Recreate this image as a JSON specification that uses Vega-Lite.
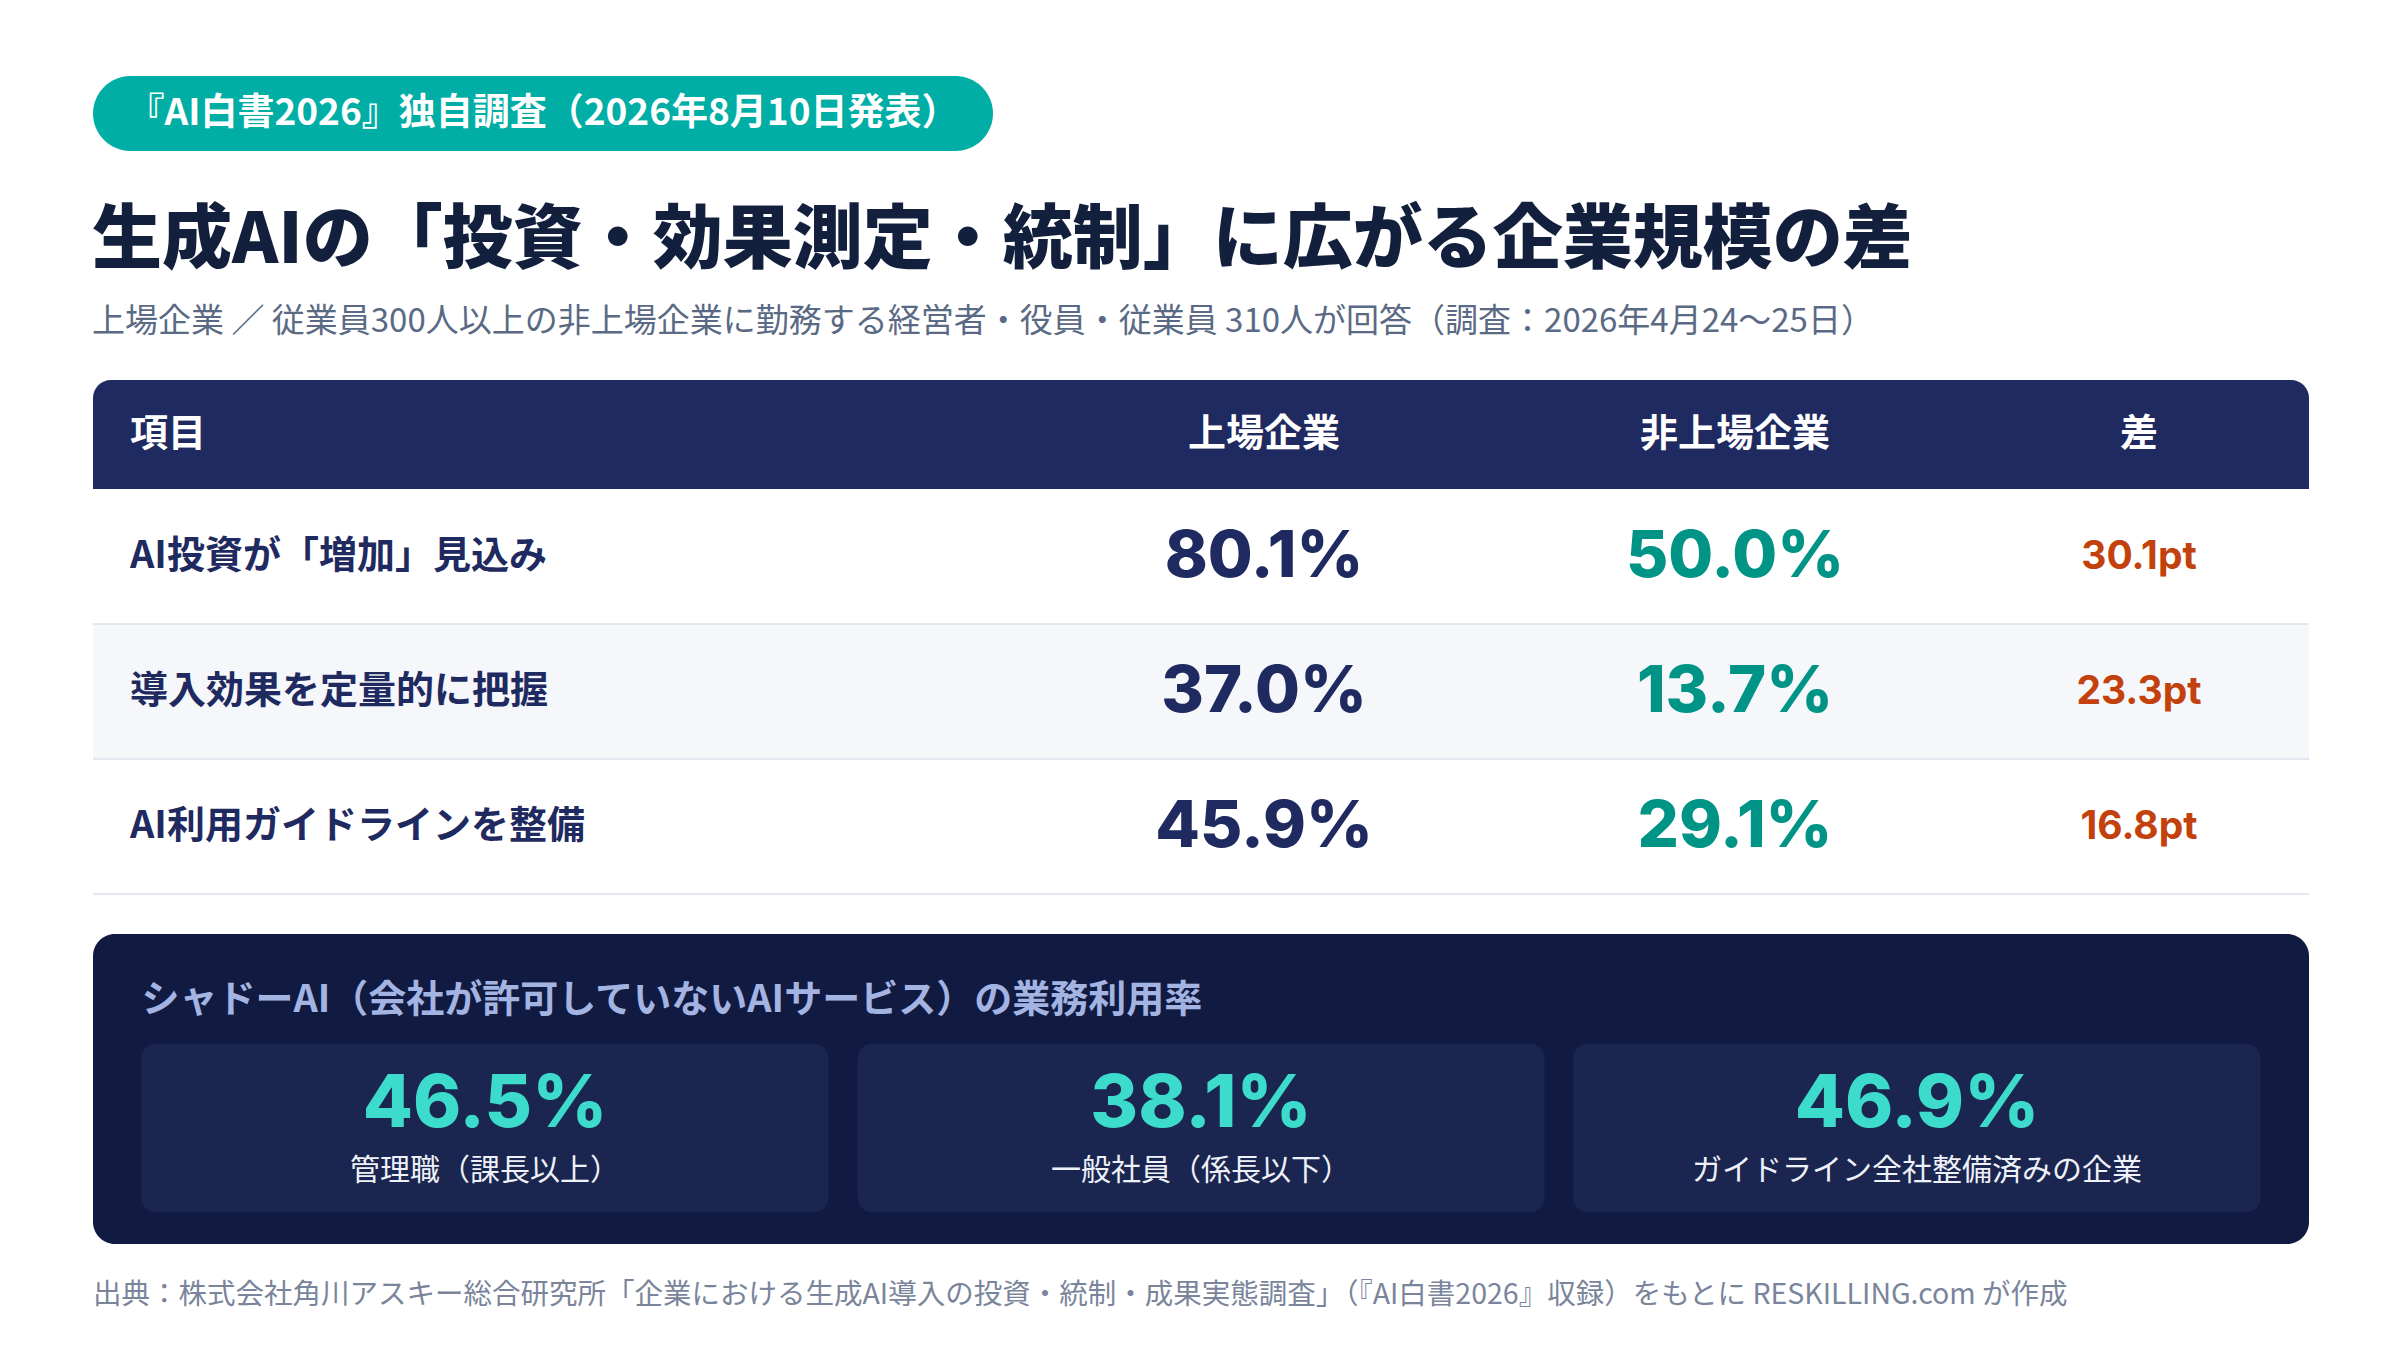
{
  "$schema": "https://vega.github.io/schema/vega-lite/v6.json",
  "description": "生成AIの投資・効果測定・統制に見る企業規模の差と、シャドーAIの業務利用率",
  "background": "#FFFFFF",
  "padding": {"left": 92, "right": 92, "top": 76, "bottom": 27},
  "spacing": 39,
  "datasets": {
    "badge": [{"label": "『AI白書2026』独自調査（2026年8月10日発表）"}],
    "columns": [{"col": "項目"}, {"col": "上場企業"}, {"col": "非上場企業"}, {"col": "差"}],
    "survey": [
      {"item": "AI投資が「増加」見込み", "listed": 80.1, "unlisted": 50.0, "diff": 30.1},
      {"item": "導入効果を定量的に把握", "listed": 37.0, "unlisted": 13.7, "diff": 23.3},
      {"item": "AI利用ガイドラインを整備", "listed": 45.9, "unlisted": 29.1, "diff": 16.8}
    ],
    "shadow": [
      {"metric": "シャドーAI（会社が許可していないAIサービス）の業務利用率", "group": "管理職（課長以上）", "rate": 46.5},
      {"metric": "シャドーAI（会社が許可していないAIサービス）の業務利用率", "group": "一般社員（係長以下）", "rate": 38.1},
      {"metric": "シャドーAI（会社が許可していないAIサービス）の業務利用率", "group": "ガイドライン全社整備済みの企業", "rate": 46.9}
    ]
  },
  "vconcat": [
    {
      "spacing": 56,
      "vconcat": [
        {
          "width": 900,
          "height": 75,
          "data": {"name": "badge"},
          "layer": [
            {"mark": {"type": "rect", "color": "#00AEA5", "cornerRadius": 37.5}, "encoding": {}},
            {
              "mark": {"type": "text", "fontSize": 37, "fontWeight": "bold", "color": "#FFFFFF"},
              "encoding": {"text": {"field": "label", "type": "nominal"}}
            }
          ]
        },
        {
          "title": {
            "text": "生成AIの「投資・効果測定・統制」に広がる企業規模の差",
            "subtitle": "上場企業 ／ 従業員300人以上の非上場企業に勤務する経営者・役員・従業員 310人が回答（調査：2026年4月24〜25日）",
            "anchor": "start",
            "fontSize": 70,
            "fontWeight": 900,
            "color": "#13203D",
            "subtitleFontSize": 33,
            "subtitleFontWeight": "normal",
            "subtitleColor": "#5A6A84",
            "subtitlePadding": 28,
            "offset": 40
          },
          "spacing": 0,
          "vconcat": [
            {
              "data": {"name": "columns"},
              "spacing": 0,
              "bounds": "flush",
              "hconcat": [
                {
                  "width": 934,
                  "height": 109,
                  "transform": [{"filter": "datum.col === '項目'"}],
                  "layer": [
                    {"mark": {"type": "rect", "color": "#1F2A60", "cornerRadiusTopLeft": 18}, "encoding": {}},
                    {
                      "mark": {"type": "text", "align": "left", "dx": 37, "fontSize": 38, "fontWeight": "bold", "color": "#FFFFFF"},
                      "encoding": {
                        "x": {"field": "col", "type": "nominal", "bandPosition": 0, "axis": null, "scale": {"type": "band", "paddingInner": 0, "paddingOuter": 0}},
                        "text": {"field": "col", "type": "nominal"}
                      }
                    }
                  ]
                },
                {
                  "width": 474,
                  "height": 109,
                  "transform": [{"filter": "datum.col === '上場企業'"}],
                  "layer": [
                    {"mark": {"type": "rect", "color": "#1F2A60"}, "encoding": {}},
                    {
                      "mark": {"type": "text", "fontSize": 38, "fontWeight": "bold", "color": "#FFFFFF"},
                      "encoding": {
                        "x": {"field": "col", "type": "nominal", "axis": null, "scale": {"type": "band", "paddingInner": 0, "paddingOuter": 0}},
                        "text": {"field": "col", "type": "nominal"}
                      }
                    }
                  ]
                },
                {
                  "width": 468,
                  "height": 109,
                  "transform": [{"filter": "datum.col === '非上場企業'"}],
                  "layer": [
                    {"mark": {"type": "rect", "color": "#1F2A60"}, "encoding": {}},
                    {
                      "mark": {"type": "text", "fontSize": 38, "fontWeight": "bold", "color": "#FFFFFF"},
                      "encoding": {
                        "x": {"field": "col", "type": "nominal", "axis": null, "scale": {"type": "band", "paddingInner": 0, "paddingOuter": 0}},
                        "text": {"field": "col", "type": "nominal"}
                      }
                    }
                  ]
                },
                {
                  "width": 340,
                  "height": 109,
                  "transform": [{"filter": "datum.col === '差'"}],
                  "layer": [
                    {"mark": {"type": "rect", "color": "#1F2A60", "cornerRadiusTopRight": 18}, "encoding": {}},
                    {
                      "mark": {"type": "text", "fontSize": 38, "fontWeight": "bold", "color": "#FFFFFF"},
                      "encoding": {
                        "x": {"field": "col", "type": "nominal", "axis": null, "scale": {"type": "band", "paddingInner": 0, "paddingOuter": 0}},
                        "text": {"field": "col", "type": "nominal"}
                      }
                    }
                  ]
                }
              ]
            },
            {
              "data": {"name": "survey"},
              "transform": [
                {"calculate": "format(datum.listed, '.1f') + '%'", "as": "listed_label"},
                {"calculate": "format(datum.unlisted, '.1f') + '%'", "as": "unlisted_label"},
                {"calculate": "format(datum.diff, '.1f') + 'pt'", "as": "diff_label"}
              ],
              "spacing": 0,
              "bounds": "flush",
              "hconcat": [
                {
                  "width": 934,
                  "height": 405,
                  "encoding": {
                    "y": {"field": "item", "type": "nominal", "sort": null, "axis": null, "scale": {"type": "band", "paddingInner": 0, "paddingOuter": 0}}
                  },
                  "layer": [
                    {
                      "mark": {"type": "rect"},
                      "encoding": {"fill": {"field": "item", "type": "nominal", "sort": null, "legend": null, "scale": {"range": ["#FFFFFF", "#F5F7FB", "#FFFFFF"]}}}
                    },
                    {
                      "mark": {"type": "rule", "color": "#E3E7F0", "strokeWidth": 2},
                      "encoding": {"y": {"field": "item", "type": "nominal", "sort": null, "axis": null, "bandPosition": 1}}
                    },
                    {
                      "mark": {"type": "text", "align": "left", "dx": 37, "fontSize": 38, "fontWeight": "bold", "color": "#1F2A60"},
                      "encoding": {
                        "x": {"datum": "項目", "type": "nominal", "bandPosition": 0, "axis": null, "scale": {"type": "band", "paddingInner": 0, "paddingOuter": 0}},
                        "text": {"field": "item", "type": "nominal"}
                      }
                    }
                  ]
                },
                {
                  "width": 474,
                  "height": 405,
                  "encoding": {
                    "y": {"field": "item", "type": "nominal", "sort": null, "axis": null, "scale": {"type": "band", "paddingInner": 0, "paddingOuter": 0}}
                  },
                  "layer": [
                    {
                      "mark": {"type": "rect"},
                      "encoding": {"fill": {"field": "item", "type": "nominal", "sort": null, "legend": null}}
                    },
                    {
                      "mark": {"type": "rule", "color": "#E3E7F0", "strokeWidth": 2},
                      "encoding": {"y": {"field": "item", "type": "nominal", "sort": null, "axis": null, "bandPosition": 1}}
                    },
                    {
                      "mark": {"type": "text", "font": "Inter", "fontSize": 65, "fontWeight": 800, "letterSpacing": -3, "color": "#1F2A60"},
                      "encoding": {
                        "x": {"datum": "上場企業", "type": "nominal", "axis": null, "scale": {"type": "band", "paddingInner": 0, "paddingOuter": 0}},
                        "text": {"field": "listed_label", "type": "nominal"}
                      }
                    }
                  ]
                },
                {
                  "width": 468,
                  "height": 405,
                  "encoding": {
                    "y": {"field": "item", "type": "nominal", "sort": null, "axis": null, "scale": {"type": "band", "paddingInner": 0, "paddingOuter": 0}}
                  },
                  "layer": [
                    {
                      "mark": {"type": "rect"},
                      "encoding": {"fill": {"field": "item", "type": "nominal", "sort": null, "legend": null}}
                    },
                    {
                      "mark": {"type": "rule", "color": "#E3E7F0", "strokeWidth": 2},
                      "encoding": {"y": {"field": "item", "type": "nominal", "sort": null, "axis": null, "bandPosition": 1}}
                    },
                    {
                      "mark": {"type": "text", "font": "Inter", "fontSize": 65, "fontWeight": 800, "letterSpacing": -3, "color": "#009486"},
                      "encoding": {
                        "x": {"datum": "非上場企業", "type": "nominal", "axis": null, "scale": {"type": "band", "paddingInner": 0, "paddingOuter": 0}},
                        "text": {"field": "unlisted_label", "type": "nominal"}
                      }
                    }
                  ]
                },
                {
                  "width": 340,
                  "height": 405,
                  "encoding": {
                    "y": {"field": "item", "type": "nominal", "sort": null, "axis": null, "scale": {"type": "band", "paddingInner": 0, "paddingOuter": 0}}
                  },
                  "layer": [
                    {
                      "mark": {"type": "rect"},
                      "encoding": {"fill": {"field": "item", "type": "nominal", "sort": null, "legend": null}}
                    },
                    {
                      "mark": {"type": "rule", "color": "#E3E7F0", "strokeWidth": 2},
                      "encoding": {"y": {"field": "item", "type": "nominal", "sort": null, "axis": null, "bandPosition": 1}}
                    },
                    {
                      "mark": {"type": "text", "font": "Inter", "fontSize": 39, "fontWeight": 700, "color": "#C2410C"},
                      "encoding": {
                        "x": {"datum": "差", "type": "nominal", "axis": null, "scale": {"type": "band", "paddingInner": 0, "paddingOuter": 0}},
                        "text": {"field": "diff_label", "type": "nominal"}
                      }
                    }
                  ]
                }
              ]
            }
          ]
        }
      ]
    },
    {
      "width": 2216,
      "height": 310,
      "data": {"name": "shadow"},
      "transform": [{"calculate": "format(datum.rate, '.1f') + '%'", "as": "rate_label"}],
      "view": {"fill": "#111B41", "cornerRadius": 22, "stroke": null},
      "title": {
        "text": "出典：株式会社角川アスキー総合研究所「企業における生成AI導入の投資・統制・成果実態調査」（『AI白書2026』収録）をもとに RESKILLING.com が作成",
        "orient": "bottom",
        "anchor": "start",
        "offset": 37,
        "fontSize": 28.5,
        "fontWeight": "normal",
        "color": "#7A859B"
      },
      "encoding": {
        "x": {"field": "group", "type": "nominal", "sort": null, "axis": null, "scale": {"type": "band", "paddingInner": 0.0405, "paddingOuter": 0.0677}},
        "y": {"field": "metric", "type": "nominal", "axis": null, "scale": {"type": "band", "paddingInner": 0, "paddingOuter": 0.4226, "align": 0.7746}}
      },
      "layer": [
        {"mark": {"type": "rect", "color": "#1A2550", "cornerRadius": 14}},
        {
          "mark": {"type": "text", "font": "Inter", "fontSize": 73, "fontWeight": 800, "color": "#3DDBCC"},
          "encoding": {
            "y": {"field": "metric", "type": "nominal", "axis": null, "bandPosition": 0.364},
            "text": {"field": "rate_label", "type": "nominal"}
          }
        },
        {
          "mark": {"type": "text", "fontSize": 30, "color": "#EEF1F8"},
          "encoding": {
            "y": {"field": "metric", "type": "nominal", "axis": null, "bandPosition": 0.756},
            "text": {"field": "group", "type": "nominal"}
          }
        },
        {
          "transform": [
            {"window": [{"op": "row_number", "as": "order"}]},
            {"filter": "datum.order === 1"}
          ],
          "mark": {"type": "text", "align": "left", "baseline": "alphabetic", "dy": -32, "fontSize": 38, "fontWeight": "bold", "color": "#A3B4E3"},
          "encoding": {
            "x": {"field": "group", "type": "nominal", "sort": null, "axis": null, "bandPosition": 0},
            "y": {"field": "metric", "type": "nominal", "axis": null, "bandPosition": 0},
            "text": {"field": "metric", "type": "nominal"}
          }
        }
      ]
    }
  ],
  "config": {
    "view": {"stroke": null},
    "font": "Noto Sans CJK JP",
    "title": {"font": "Noto Sans CJK JP", "subtitleFont": "Noto Sans CJK JP"},
    "text": {"font": "Noto Sans CJK JP"}
  }
}
